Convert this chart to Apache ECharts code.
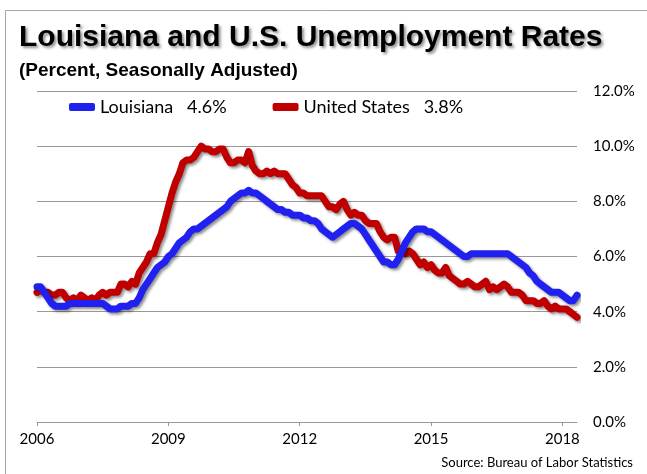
<!DOCTYPE html>
<html>
<head>
<meta charset="utf-8">
<script src="https://cdn.jsdelivr.net/npm/echarts@6/dist/echarts.min.js"></script>
<style>
  html, body { margin: 0; padding: 0; background: #fff; }
  #chart { width: 647px; height: 474px; }
</style>
</head>
<body>
<div id="chart"></div>
<script>
// monthly data, Jan 2006 .. May 2018
let startYear = 2006;
let monthCount = 149;
let yTicks = ['0.0%', '2.0%', '4.0%', '6.0%', '8.0%', '10.0%', '12.0%'];

let louisiana = [
    // 2006
    4.9, 4.9, 4.7, 4.5, 4.3, 4.2, 4.2, 4.2, 4.2, 4.3, 4.3, 4.3,
    // 2007
    4.3, 4.3, 4.3, 4.3, 4.3, 4.3, 4.3, 4.2, 4.1, 4.1, 4.1, 4.2,
    // 2008
    4.2, 4.2, 4.3, 4.3, 4.5, 4.8, 5.0, 5.2, 5.4, 5.6, 5.7, 5.8,
    // 2009
    6.0, 6.1, 6.3, 6.5, 6.6, 6.7, 6.9, 7.0, 7.0, 7.1, 7.2, 7.3,
    // 2010
    7.4, 7.5, 7.6, 7.7, 7.8, 8.0, 8.1, 8.2, 8.3, 8.3, 8.4, 8.3,
    // 2011
    8.3, 8.2, 8.1, 8.0, 7.9, 7.8, 7.7, 7.7, 7.6, 7.6, 7.5, 7.5,
    // 2012
    7.5, 7.4, 7.4, 7.3, 7.3, 7.2, 7.0, 6.9, 6.8, 6.7, 6.8, 6.9,
    // 2013
    7.0, 7.1, 7.2, 7.2, 7.1, 7.0, 6.8, 6.6, 6.4, 6.2, 6.0, 5.8,
    // 2014
    5.8, 5.7, 5.7, 5.9, 6.2, 6.5, 6.7, 6.9, 7.0, 7.0, 7.0, 6.9,
    // 2015
    6.9, 6.8, 6.7, 6.6, 6.5, 6.4, 6.3, 6.2, 6.1, 6.0, 6.0, 6.1,
    // 2016
    6.1, 6.1, 6.1, 6.1, 6.1, 6.1, 6.1, 6.1, 6.1, 6.1, 6.0, 5.9,
    // 2017
    5.8, 5.7, 5.6, 5.4, 5.3, 5.1, 5.0, 4.9, 4.8, 4.7, 4.7, 4.7,
    // 2018
    4.6, 4.5, 4.4, 4.4, 4.6
];

let unitedStates = [
    // 2006
    4.7, 4.8, 4.7, 4.7, 4.6, 4.6, 4.7, 4.7, 4.5, 4.4, 4.5, 4.4,
    // 2007
    4.6, 4.5, 4.4, 4.5, 4.4, 4.6, 4.7, 4.6, 4.7, 4.7, 4.7, 5.0,
    // 2008
    5.0, 4.9, 5.1, 5.0, 5.4, 5.6, 5.8, 6.1, 6.1, 6.5, 6.8, 7.3,
    // 2009
    7.8, 8.3, 8.7, 9.0, 9.4, 9.5, 9.5, 9.6, 9.8, 10.0, 9.9, 9.9,
    // 2010
    9.8, 9.8, 9.9, 9.9, 9.6, 9.4, 9.4, 9.5, 9.5, 9.4, 9.8, 9.3,
    // 2011
    9.1, 9.0, 9.0, 9.1, 9.0, 9.1, 9.0, 9.0, 9.0, 8.8, 8.6, 8.5,
    // 2012
    8.3, 8.3, 8.2, 8.2, 8.2, 8.2, 8.2, 8.0, 7.8, 7.8, 7.7, 7.9,
    // 2013
    8.0, 7.7, 7.5, 7.6, 7.5, 7.5, 7.3, 7.2, 7.2, 7.2, 6.9, 6.7,
    // 2014
    6.6, 6.7, 6.7, 6.2, 6.3, 6.1, 6.2, 6.1, 5.9, 5.7, 5.8, 5.6,
    // 2015
    5.7, 5.5, 5.4, 5.4, 5.6, 5.3, 5.2, 5.1, 5.0, 5.0, 5.1, 5.0,
    // 2016
    4.9, 4.9, 5.0, 5.1, 4.8, 4.9, 4.8, 4.9, 5.0, 4.9, 4.7, 4.7,
    // 2017
    4.7, 4.6, 4.4, 4.4, 4.4, 4.3, 4.3, 4.4, 4.2, 4.1, 4.2, 4.1,
    // 2018
    4.1, 4.1, 4.0, 3.9, 3.8
];

let months = [];
for (let i = 0; i < monthCount; i++) {
    let y = startYear + Math.floor(i / 12);
    let m = (i % 12) + 1;
    months.push(y + '-' + (m < 10 ? '0' + m : m));
}

let latest = {
    'Louisiana': louisiana[louisiana.length - 1],
    'United States': unitedStates[unitedStates.length - 1]
};

let labelFont = 'Lato, "DejaVu Sans", sans-serif';
let shadow = {
    shadowColor: 'rgba(0,0,0,0.45)',
    shadowBlur: 3,
    shadowOffsetX: 2,
    shadowOffsetY: 2
};

let ctx = document.getElementById("chart");
let chart = echarts.init(ctx, null, {renderer: 'canvas'});

let option = {
    animation: false,
    backgroundColor: '#fff',
    title: [{
        text: 'Louisiana and U.S. Unemployment Rates',
        left: 14,
        top: 18,
        textStyle: {
            fontFamily: '"Liberation Sans", Arial, sans-serif',
            fontWeight: 'bold',
            fontSize: 30,
            color: '#000',
            textShadowColor: 'rgba(0,0,0,0.45)',
            textShadowBlur: 3,
            textShadowOffsetX: 2,
            textShadowOffsetY: 2
        }
    }, {
        text: '(Percent, Seasonally Adjusted)',
        left: 14,
        top: 56,
        textStyle: {
            fontFamily: '"Liberation Sans", Arial, sans-serif',
            fontWeight: 'bold',
            fontSize: 19,
            color: '#000'
        }
    }, {
        text: 'Source: Bureau of Labor Statistics',
        right: 9,
        top: 451,
        textStyle: {
            fontFamily: labelFont,
            fontWeight: 'normal',
            fontSize: 13,
            color: '#000'
        }
    }],
    legend: {
        left: 64,
        top: 93,
        itemWidth: 26,
        itemHeight: 8,
        itemGap: 46,
        icon: 'roundRect',
        data: ['Louisiana', 'United States'],
        formatter: (name) => name + '   ' + latest[name].toFixed(1) + '%',
        textStyle: {
            fontFamily: labelFont,
            fontSize: 18,
            color: '#000'
        }
    },
    graphic: [{
        type: 'polyline',
        silent: true,
        shape: {points: [[5.5, 474], [5.5, 10.5], [647, 10.5]]},
        style: {stroke: '#a6a6a6', lineWidth: 1, fill: null}
    }],
    grid: {
        left: 37,
        right: 70,
        top: 91,
        bottom: 52
    },
    xAxis: {
        type: 'category',
        data: months,
        boundaryGap: false,
        axisLine: {lineStyle: {color: '#999', width: 1}},
        axisTick: {interval: 35, length: 4, lineStyle: {color: '#999'}},
        axisLabel: {
            interval: 35,
            margin: 10,
            fontFamily: labelFont,
            fontSize: 15,
            color: '#000',
            formatter: (v) => v.slice(0, 4)
        },
        splitLine: {show: false}
    },
    yAxis: {
        type: 'value',
        position: 'right',
        min: 0,
        max: 12,
        interval: 2,
        axisLine: {show: false},
        axisTick: {show: false},
        axisLabel: {
            margin: 16,
            fontFamily: labelFont,
            fontSize: 15,
            color: '#000',
            formatter: (v) => yTicks[Math.round(v / 2)]
        },
        splitLine: {lineStyle: {color: '#999', width: 1}}
    },
    series: [{
        name: 'Louisiana',
        type: 'line',
        data: louisiana,
        showSymbol: false,
        smooth: false,
        z: 3,
        itemStyle: {color: '#2020f0'},
        lineStyle: Object.assign({color: '#2020f0', width: 7, cap: 'round', join: 'round'}, shadow)
    }, {
        name: 'United States',
        type: 'line',
        data: unitedStates,
        showSymbol: false,
        smooth: false,
        z: 2,
        itemStyle: {color: '#c00000'},
        lineStyle: Object.assign({color: '#c00000', width: 7, cap: 'round', join: 'round'}, shadow)
    }]
};

chart.setOption(option, true);

window.onresize = () => {
    chart.resize();
};
</script>
</body>
</html>
